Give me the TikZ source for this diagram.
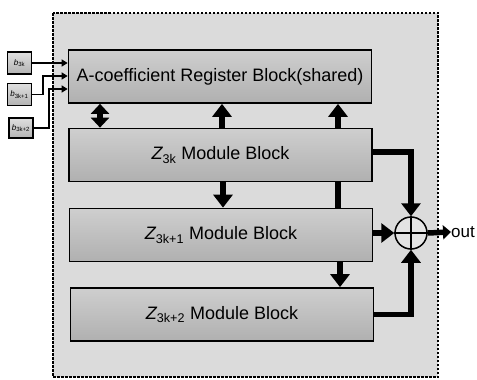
\documentclass[tikz,border=0pt]{standalone}
\usepackage{fontspec}
\setmainfont{Liberation Sans}
\usetikzlibrary{arrows.meta,calc}
\pgfdeclarelayer{back}
\pgfdeclarelayer{mid}
\pgfsetlayers{back,mid,main}
\begin{document}
\begin{tikzpicture}[x=1pt,y=-1pt,
  block/.style={draw=black, line width=1.7pt, top color=gray!38, bottom color=gray!62,
    minimum width=303pt, minimum height=53pt, inner sep=0pt,
    font=\fontsize{18}{20}\selectfont},
  inbox/.style={draw=black, line width=1.9pt, top color=gray!25, bottom color=gray!60,
    minimum width=24pt, minimum height=22pt, inner sep=0pt,
    font=\fontsize{8}{9}\selectfont},
  fat/.style={line width=5.5pt, -{Triangle[width=19pt,length=13pt]}},
  fatboth/.style={line width=5.5pt, {Triangle[width=18pt,length=10pt]}-{Triangle[width=18pt,length=10pt]}},
  feed/.style={line width=1.3pt, -{Triangle[width=7pt,length=6pt]}},
  sumnode/.style={circle, draw=black, line width=1.5pt, minimum size=32pt, inner sep=0pt, fill=gray!22},
  lbl/.style={inner sep=0pt, font=\fontsize{17}{19}\selectfont}
]
\useasboundingbox (0,0) rectangle (477,380);

\begin{pgfonlayer}{back}
  \draw[dashed, dash pattern=on 2.5pt off 1.5pt, line width=1.1pt, fill=gray!28] (53,13) rectangle (438,377);
\end{pgfonlayer}

% blocks
\node[block] (reg) at (220,76.5) {A-coefficient Register Block(shared)};
\node[block] (z0) at (220.5,155) {{\itshape Z}\textsubscript{3k} Module Block};
\node[block] (z1) at (221,235) {{\itshape Z}\textsubscript{3k+1} Module Block};
\node[block] (z2) at (222,314.5) {{\itshape Z}\textsubscript{3k+2} Module Block};

% inputs
\node[inbox] (b0) at (19.5,63) {{\itshape b}\textsubscript{3k}};
\node[inbox] (b1) at (19.5,94.5) {{\itshape b}\textsubscript{3k+1}};
\node[inbox, minimum height=20pt] (b2) at (21,128) {{\itshape b}\textsubscript{3k+2}};

\coordinate (c1) at (43,76);
\coordinate (c2) at (49,89);
\draw[feed] (b0.east) -- (b0.east -| reg.west);
\draw[feed] (b1.east) -| (c1) -- (c1 -| reg.west);
\draw[feed] (b2.east) -| (c2) -- (c2 -| reg.west);

% column helpers
\coordinate (xa) at (100,0);
\coordinate (xb) at (222,0);
\coordinate (xc) at (338,0);
\coordinate (xd) at (223,0);
\coordinate (xe) at (340,0);

% vertical connectors
\draw[fatboth] (reg.south -| xa) -- (z0.north -| xa);
\draw[fat] (z0.north -| xb) -- (reg.south -| xb);
\begin{pgfonlayer}{mid}
  \draw[fat] (z1.north -| xc) -- (reg.south -| xc);
\end{pgfonlayer}
\draw[fat] (z0.south -| xd) -- (z1.north -| xd);
\draw[fat] (z1.south -| xe) -- (z2.north -| xe);

% adder
\node[sumnode] (sum) at (411,233) {};
\draw[line width=1.2pt] (sum.north) -- (sum.south) (sum.west) -- (sum.east);

\draw[fat] ([yshift=3pt]z0.east) -| (sum.north);
\draw[fat] (z1.east |- sum.west) -- (sum.west);
\draw[fat] (z2.east) -| (sum.south);

\node[lbl, anchor=west] (out) at (451,232) {out};
\draw[line width=5.5pt, -{Triangle[width=14pt,length=8pt]}] (sum.east) -- (out.west);
\end{tikzpicture}
\end{document}
